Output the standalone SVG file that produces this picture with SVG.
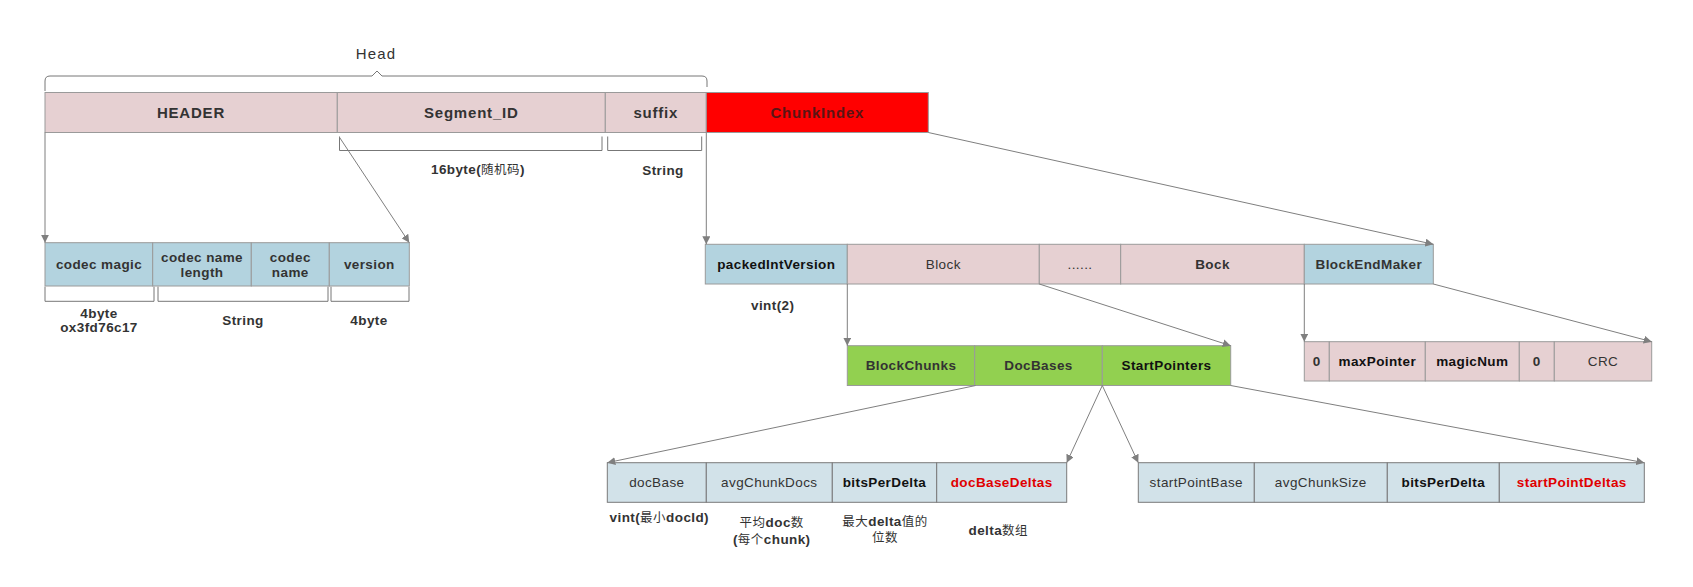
<svg xmlns="http://www.w3.org/2000/svg" width="1693" height="587" viewBox="0 0 1693 587">
<style>
text{font-family:"Liberation Sans",Arial,"Noto Sans CJK SC",sans-serif;fill:#333;text-anchor:middle;font-size:13.5px;letter-spacing:0.4px}
.b{font-weight:bold}
.k{fill:#111}
.r{fill:#e00000;font-weight:bold}
.t{font-size:15px;font-weight:bold;letter-spacing:0.8px}
.cj{font-weight:normal;font-family:"Noto Sans CJK SC",sans-serif;font-size:12.5px;letter-spacing:0.5px}
.pk{fill:#e6d0d2;stroke:#9a9a9a;stroke-width:1}
.bl{fill:#b3d3df;stroke:#9a9a9a;stroke-width:1}
.lb{fill:#d2e2e9;stroke:#7a7a7a;stroke-width:1}
.gr{fill:#92d050;stroke:#9a9a9a;stroke-width:1}
.rd{fill:#ff0000;stroke:#9a9a9a;stroke-width:1}
.br{fill:none;stroke:#777;stroke-width:1}
.c{fill:none;stroke:#7f7f7f;stroke-width:1;marker-end:url(#ah)}
</style>
<defs>
<marker id="ah" viewBox="0 0 10 10" refX="10" refY="5" markerWidth="8" markerHeight="8" markerUnits="userSpaceOnUse" orient="auto">
<path d="M0,0 L10,5 L0,10 z" fill="#7f7f7f"/>
</marker>
</defs>
<rect width="1693" height="587" fill="#fff"/>

<g id="head">
<text x="376" y="59" style="font-size:15px;letter-spacing:1.2px">Head</text>
<path class="br" d="M45,91 V81 Q45,76 50,76 H372 L377,71 L382,76 H702 Q707,76 707,81 V87" stroke="#888"/>
</g>

<g id="top-row">
<rect class="pk" x="45" y="92.5" width="292.3" height="40"/>
<text class="t" x="191" y="118">HEADER</text>
<rect class="pk" x="337.3" y="92.5" width="268" height="40"/>
<text class="t" x="471.3" y="118">Segment_ID</text>
<rect class="pk" x="605.3" y="92.5" width="101" height="40"/>
<text class="t" x="655.8" y="118">suffix</text>
</g>
<g id="chunkindex">
<rect class="rd" x="706.3" y="92.5" width="222" height="40"/>
<text class="t" x="817.3" y="118" style="fill:#5a1414">ChunkIndex</text>
</g>

<g id="top-brackets">
<path class="br" d="M339.5,136.5 V150.5 H602 V136.5"/>
<path class="br" d="M607.7,136.5 V150.5 H701.7 V136.5"/>
<text class="b" x="478" y="173.5">16byte(<tspan class="cj">随机码</tspan>)</text>
<text class="b" x="663" y="174.5">String</text>
</g>

<g id="codec-row">
<rect class="bl" x="45" y="242.7" width="107.7" height="43.3"/>
<text class="b" x="99" y="269">codec magic</text>
<rect class="bl" x="152.7" y="242.7" width="98.6" height="43.3"/>
<text class="b" x="202" y="261.5">codec name</text>
<text class="b" x="202" y="276.5">length</text>
<rect class="bl" x="251.3" y="242.7" width="78" height="43.3"/>
<text class="b" x="290.3" y="261.5">codec</text>
<text class="b" x="290.3" y="276.5">name</text>
<rect class="bl" x="329.3" y="242.7" width="80" height="43.3"/>
<text class="b" x="369.3" y="269">version</text>
<path class="br" d="M45,286.7 V301.3 H154 V286.7"/>
<path class="br" d="M158,286.7 V301.3 H328 V286.7"/>
<path class="br" d="M331,286.7 V301.3 H409 V286.7"/>
<text class="b" x="99" y="317.5">4byte</text>
<text class="b" x="99" y="332">ox3fd76c17</text>
<text class="b" x="243" y="324.5">String</text>
<text class="b" x="369" y="324.5">4byte</text>
</g>

<g id="mid-row">
<rect class="bl" x="705.3" y="244.3" width="142" height="39.7"/>
<text class="b k" x="776.3" y="268.8">packedIntVersion</text>
<rect class="pk" x="847.3" y="244.3" width="192" height="39.7"/>
<text x="943.3" y="268.8">Block</text>
<rect class="pk" x="1039.3" y="244.3" width="81.4" height="39.7"/>
<text x="1080" y="268.8">......</text>
<rect class="pk" x="1120.7" y="244.3" width="183.6" height="39.7"/>
<text class="b" x="1212.5" y="268.8">Bock</text>
<rect class="bl" x="1304.3" y="244.3" width="129" height="39.7"/>
<text class="b" x="1368.8" y="268.8">BlockEndMaker</text>
<text class="b" x="772.7" y="310">vint(2)</text>
</g>

<g id="block-row">
<rect class="gr" x="847.3" y="345.7" width="127.4" height="39.8"/>
<text class="b" x="911" y="370.3">BlockChunks</text>
<rect class="gr" x="974.7" y="345.7" width="127.6" height="39.8"/>
<text class="b" x="1038.5" y="370.3">DocBases</text>
<rect class="gr" x="1102.3" y="345.7" width="128.4" height="39.8"/>
<text class="b k" x="1166.5" y="370.3">StartPointers</text>
</g>

<g id="end-row">
<rect class="pk" x="1304.3" y="341.7" width="25" height="39.3"/>
<text class="b" x="1316.8" y="366">0</text>
<rect class="pk" x="1329.3" y="341.7" width="96" height="39.3"/>
<text class="b k" x="1377.3" y="366">maxPointer</text>
<rect class="pk" x="1425.3" y="341.7" width="94" height="39.3"/>
<text class="b k" x="1472.3" y="366">magicNum</text>
<rect class="pk" x="1519.3" y="341.7" width="35" height="39.3"/>
<text class="b" x="1536.8" y="366">0</text>
<rect class="pk" x="1554.3" y="341.7" width="97.4" height="39.3"/>
<text x="1603" y="366">CRC</text>
</g>

<g id="docbase-row">
<rect class="lb" x="607.3" y="462.7" width="99" height="39.6"/>
<text x="656.8" y="487">docBase</text>
<rect class="lb" x="706.3" y="462.7" width="126" height="39.6"/>
<text x="769.3" y="487">avgChunkDocs</text>
<rect class="lb" x="832.3" y="462.7" width="104.4" height="39.6"/>
<text class="b k" x="884.5" y="487">bitsPerDelta</text>
<rect class="lb" x="936.7" y="462.7" width="130" height="39.6"/>
<text class="r" x="1001.7" y="487">docBaseDeltas</text>
<text class="b" x="659.3" y="522">vint(<tspan class="cj">最小</tspan>docId)</text>
<text class="b" x="771.7" y="526.5"><tspan class="cj">平均</tspan>doc<tspan class="cj">数</tspan></text>
<text class="b" x="771.7" y="544">(<tspan class="cj">每个</tspan>chunk)</text>
<text class="b" x="885" y="525.5"><tspan class="cj">最大</tspan>delta<tspan class="cj">值的</tspan></text>
<text class="b" x="885" y="542"><tspan class="cj">位数</tspan></text>
<text class="b" x="998.3" y="534.5">delta<tspan class="cj">数组</tspan></text>
</g>

<g id="startpoint-row">
<rect class="lb" x="1138.3" y="462.7" width="116" height="39.6"/>
<text x="1196.3" y="487">startPointBase</text>
<rect class="lb" x="1254.3" y="462.7" width="133" height="39.6"/>
<text x="1320.8" y="487">avgChunkSize</text>
<rect class="lb" x="1387.3" y="462.7" width="112" height="39.6"/>
<text class="b k" x="1443.3" y="487">bitsPerDelta</text>
<rect class="lb" x="1499.3" y="462.7" width="145" height="39.6"/>
<text class="r" x="1571.8" y="487">startPointDeltas</text>
</g>

<g id="connectors">
<path class="c" d="M45,132.5 V242.7"/>
<path class="c" d="M339.3,137 L409.3,242.7"/>
<path class="c" d="M706.3,132.5 V244.3"/>
<path class="c" d="M928.3,132.5 L1433.3,244.3"/>
<path class="c" d="M847.3,284 V345.7"/>
<path class="c" d="M1039.3,284 L1230.7,345.7"/>
<path class="c" d="M1304.3,284 V341.7"/>
<path class="c" d="M1433.3,284 L1651.7,341.7"/>
<path class="c" d="M975.7,385.5 L607.3,462.7"/>
<path class="c" d="M1102.3,385.5 L1066.7,462.7"/>
<path class="c" d="M1102.3,385.5 L1138.3,462.7"/>
<path class="c" d="M1230.7,385.5 L1644.3,462.7"/>
</g>
</svg>
